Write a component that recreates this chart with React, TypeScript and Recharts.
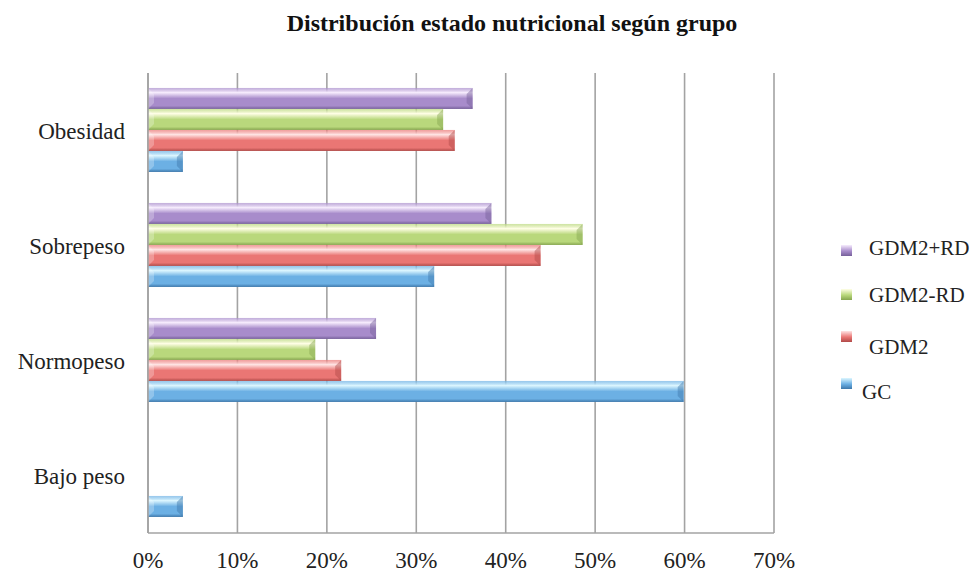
import React from 'react';
import { BarChart, Bar, XAxis, YAxis, CartesianGrid } from 'recharts';

const categories = ['Obesidad', 'Sobrepeso', 'Normopeso', 'Bajo peso'];
const gdm2rdPlus = [36.3, 38.4, 25.5, 0];
const gdm2rdMinus = [33.0, 48.6, 18.7, 0];
const gdm2 = [34.3, 43.9, 21.6, 0];
const gc = [3.9, 32.0, 59.9, 3.9];
const xTicks = [0, 10, 20, 30, 40, 50, 60, 70];

const series = [
  { key: 'gdm2rdPlus', name: 'GDM2+RD', light: '#f6ecfd', base: '#a88ccb', dark: '#76609a' },
  { key: 'gdm2rdMinus', name: 'GDM2-RD', light: '#fffee6', base: '#b9d87c', dark: '#86a64f' },
  { key: 'gdm2', name: 'GDM2', light: '#ffe4e4', base: '#ea7674', dark: '#b04a48' },
  { key: 'gc', name: 'GC', light: '#dcf6ff', base: '#6cb0e4', dark: '#3d77aa' },
];

const data = categories.map((name, i) => ({
  name,
  gdm2rdPlus: gdm2rdPlus[i],
  gdm2rdMinus: gdm2rdMinus[i],
  gdm2: gdm2[i],
  gc: gc[i],
}));

const FONT = '"Liberation Serif", "Times New Roman", serif';

const BevelBar = (props: any) => {
  const { x, y, width, height, gid, dark } = props;
  if (!width || width <= 0) return null;
  const cap = Math.min(6, width / 2);
  return (
    <g>
      <rect x={x} y={y} width={width} height={height} fill={`url(#${gid})`} />
      <polygon
        points={`${x + width - cap},${y + cap} ${x + width},${y} ${x + width},${y + height} ${x + width - cap},${y + height - cap}`}
        fill={dark}
        opacity={0.45}
      />
      <polygon
        points={`${x},${y} ${x + cap},${y + cap} ${x + cap},${y + height - cap} ${x},${y + height}`}
        fill="#ffffff"
        opacity={0.25}
      />
    </g>
  );
};

const YTick = (props: any) => {
  const { x, y, payload } = props;
  return (
    <text x={x} y={y + 3} textAnchor="end" dominantBaseline="middle" fontFamily={FONT} fontSize={23} fill="#222">
      {payload.value}
    </text>
  );
};

const XTick = (props: any) => {
  const { x, y, payload } = props;
  return (
    <text x={x} y={y + 22} textAnchor="middle" dominantBaseline="middle" fontFamily={FONT} fontSize={23} fill="#222">
      {`${payload.value}%`}
    </text>
  );
};

const legendPos = [
  { marker: 250, text: 248, tx: 869 },
  { marker: 294, text: 295, tx: 869 },
  { marker: 336, text: 347, tx: 869 },
  { marker: 383, text: 392, tx: 862 },
];

export default function App() {
  return (
    <div style={{ position: 'absolute', left: 0, top: 0, width: 970, height: 574, background: '#fff' }}>
      <div
        style={{
          position: 'absolute',
          left: 0,
          width: 1024,
          top: 10,
          textAlign: 'center',
          fontFamily: FONT,
          fontWeight: 'bold',
          fontSize: 24,
          color: '#111',
        }}
      >
        Distribución estado nutricional según grupo
      </div>
      <BarChart
        width={970}
        height={574}
        data={data}
        layout="vertical"
        margin={{ top: 73, right: 196, bottom: 0, left: 0 }}
        barCategoryGap="13%"
        barGap={0}
      >
        <defs>
          {series.map((s) => (
            <linearGradient key={s.key} id={`g-${s.key}`} x1="0" y1="0" x2="0" y2="1">
              <stop offset="0%" stopColor={s.base} stopOpacity={0.7} />
              <stop offset="22%" stopColor={s.light} />
              <stop offset="50%" stopColor={s.base} />
              <stop offset="85%" stopColor={s.base} />
              <stop offset="100%" stopColor={s.dark} />
            </linearGradient>
          ))}
        </defs>
        <CartesianGrid horizontal={false} stroke="#a3a3a3" strokeWidth={1.6} />
        <XAxis
          type="number"
          domain={[0, 70]}
          ticks={xTicks}
          height={41}
          tickLine={false}
          axisLine={{ stroke: '#a3a3a3', strokeWidth: 1.6 }}
          tick={<XTick />}
          interval={0}
        />
        <YAxis
          type="category"
          dataKey="name"
          width={148}
          tickLine={false}
          axisLine={{ stroke: '#a3a3a3', strokeWidth: 1.6 }}
          tick={<YTick />}
          tickSize={0}
          tickMargin={23}
        />
        {series.map((s) => (
          <Bar
            key={s.key}
            dataKey={s.key}
            name={s.name}
            isAnimationActive={false}
            shape={(p: any) => <BevelBar {...p} gid={`g-${s.key}`} dark={s.dark} />}
          />
        ))}
      </BarChart>
      {series.map((s, i) => (
        <React.Fragment key={s.key}>
          <div
            style={{
              position: 'absolute',
              left: 841,
              top: legendPos[i].marker - 5,
              width: 11,
              height: 11,
              background: `linear-gradient(${s.light}, ${s.base} 55%, ${s.dark})`,
            }}
          />
          <div
            style={{
              position: 'absolute',
              left: legendPos[i].tx,
              top: legendPos[i].text - 13,
              lineHeight: '26px',
              fontFamily: FONT,
              fontSize: 21,
              color: '#222',
              whiteSpace: 'nowrap',
            }}
          >
            {s.name}
          </div>
        </React.Fragment>
      ))}
    </div>
  );
}
